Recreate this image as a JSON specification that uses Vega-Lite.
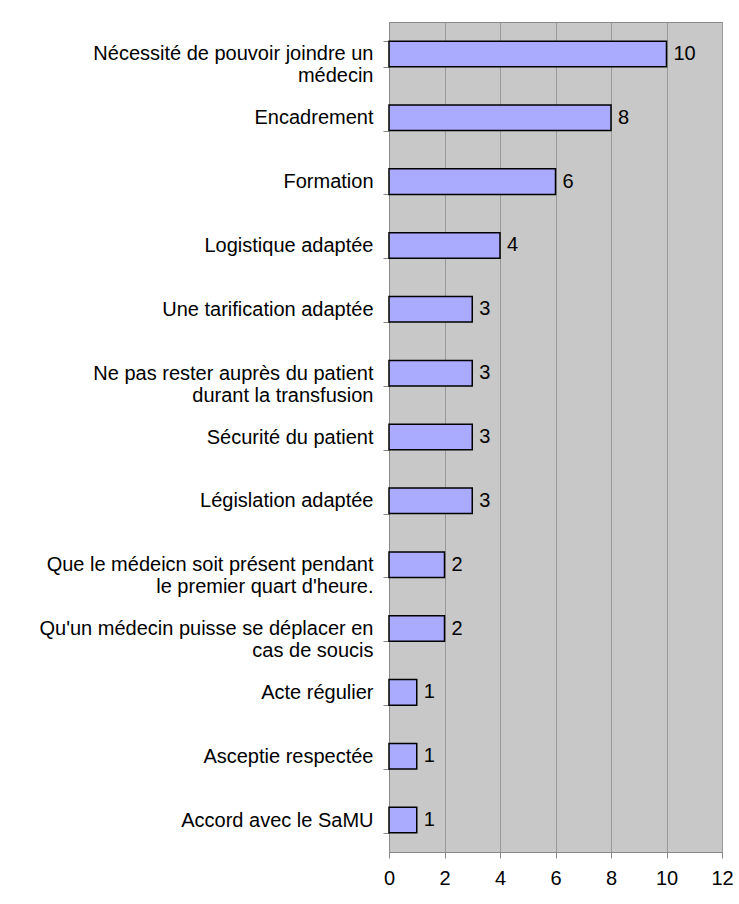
{
  "$schema": "https://vega.github.io/schema/vega-lite/v6.json",
  "width": 333,
  "height": 830,
  "padding": {"left": 38, "top": 12, "right": 5, "bottom": 5},
  "background": "white",
  "config": {
    "font": "Liberation Sans",
    "view": {"fill": "#c8c8c8", "stroke": "#888888", "strokeWidth": 1}
  },
  "data": {
    "values": [
      {"item": "Nécessité de pouvoir joindre un|médecin", "count": 10},
      {"item": "Encadrement", "count": 8},
      {"item": "Formation", "count": 6},
      {"item": "Logistique adaptée", "count": 4},
      {"item": "Une tarification adaptée", "count": 3},
      {"item": "Ne pas rester auprès du patient|durant la transfusion", "count": 3},
      {"item": "Sécurité du patient", "count": 3},
      {"item": "Législation adaptée", "count": 3},
      {"item": "Que le médeicn soit présent pendant|le premier quart d'heure.", "count": 2},
      {"item": "Qu'un médecin puisse se déplacer en|cas de soucis", "count": 2},
      {"item": "Acte régulier", "count": 1},
      {"item": "Asceptie respectée", "count": 1},
      {"item": "Accord avec le SaMU", "count": 1}
    ]
  },
  "encoding": {
    "y": {
      "field": "item",
      "type": "nominal",
      "sort": null,
      "scale": {"paddingInner": 0.6, "paddingOuter": 0.3},
      "axis": {
        "title": null,
        "labelExpr": "split(datum.label, '|')",
        "labelFontSize": 20,
        "labelColor": "black",
        "labelLimit": 400,
        "labelLineHeight": 22,
        "labelPadding": 10,
        "tickBand": "extent",
        "tickSize": 6,
        "tickColor": "#888888",
        "domainColor": "#888888",
        "grid": false
      }
    },
    "x": {
      "field": "count",
      "type": "quantitative",
      "scale": {"domain": [0, 12]},
      "axis": {
        "title": null,
        "values": [0, 2, 4, 6, 8, 10, 12],
        "labelFontSize": 20,
        "labelColor": "black",
        "labelPadding": 10,
        "labelFlush": false,
        "tickSize": 6,
        "tickColor": "#888888",
        "domainColor": "#888888",
        "grid": true,
        "gridColor": "#999999",
        "gridOpacity": 1
      }
    }
  },
  "layer": [
    {
      "mark": {"type": "bar", "fill": "#aaaaff", "stroke": "black", "strokeWidth": 1.5}
    },
    {
      "mark": {"type": "text", "align": "left", "dx": 7, "fontSize": 20, "color": "black"},
      "encoding": {"text": {"field": "count", "type": "quantitative"}}
    }
  ]
}
